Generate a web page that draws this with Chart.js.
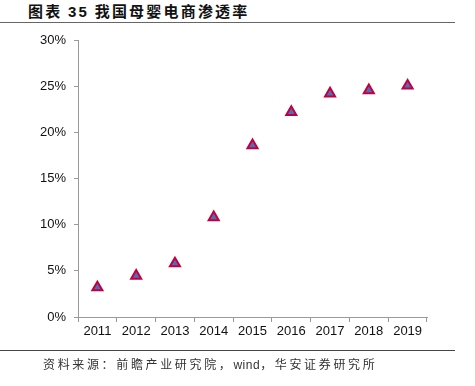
<!DOCTYPE html>
<html>
<head>
<meta charset="utf-8">
<script src="https://cdn.jsdelivr.net/npm/chart.js@4/dist/chart.umd.min.js"></script>
<style>
  html, body { margin: 0; padding: 0; background: #fff; }
  #wrap { position: relative; width: 475px; height: 386px; overflow: hidden; }
  #title { position: absolute; left: 28px; top: 1px; font-family: "Noto Sans CJK SC", sans-serif; font-weight: bold; font-size: 15px; letter-spacing: 2.2px; color: #111; white-space: nowrap; line-height: 20px; }
  #title .num { font-family: "Liberation Sans", Arial, sans-serif; }
  #topline { position: absolute; left: 0; top: 22px; width: 455px; height: 1px; background: #666; }
  #botline { position: absolute; left: 0; top: 350px; width: 455px; height: 1px; background: #444; }
  #source { position: absolute; left: 43px; top: 355px; font-family: "Noto Sans CJK SC", sans-serif; font-size: 12px; letter-spacing: 2.65px; color: #333; white-space: nowrap; line-height: 18px; }
  #source .lat { font-family: "Liberation Sans", Arial, sans-serif; letter-spacing: 0.5px; }
  canvas { position: absolute; left: 0; top: 0; }
</style>
</head>
<body>
<div id="wrap">
  <div id="title">图表 <span class="num">35</span> 我国母婴电商渗透率</div>
  <div id="topline"></div>
  <canvas id="c" width="475" height="386"></canvas>
  <div id="botline"></div>
  <div id="source">资料来源：前瞻产业研究院，<span class="lat">wind</span>，华安证券研究所</div>
</div>
<script>
const categories = ["2011", "2012", "2013", "2014", "2015", "2016", "2017", "2018", "2019"];
const penetration = [3.2, 4.45, 5.8, 10.8, 18.6, 22.2, 24.2, 24.55, 25.05];
const yTicks = [0, 5, 10, 15, 20, 25, 30];

new Chart(document.getElementById('c'), {
  type: 'line',
  data: {
    labels: categories,
    datasets: [{
      data: penetration,
      showLine: false,
      pointStyle: 'triangle',
      pointRadius: 5.8,
      pointBorderWidth: 2,
      pointBackgroundColor: '#4a6fc0',
      pointBorderColor: '#c4003c'
    }]
  },
  options: {
    responsive: false,
    animation: false,
    events: [],
    layout: { padding: { left: 0, right: 48, top: 40, bottom: 38 } },
    plugins: { legend: { display: false }, tooltip: { enabled: false } },
    scales: {
      x: {
        type: 'category',
        offset: true,
        grid: { offset: true, drawOnChartArea: false, drawTicks: true, tickLength: 5, color: '#999' },
        border: { color: '#999', width: 1 },
        ticks: { color: '#111', font: { family: 'Liberation Sans, Arial, sans-serif', size: 13 }, padding: 2, maxRotation: 0, autoSkip: false },
        afterFit: s => { s.height = 31; }
      },
      y: {
        min: 0, max: 30,
        afterBuildTicks: s => { s.ticks = yTicks.map(v => ({ value: v })); },
        grid: { drawOnChartArea: false, drawTicks: true, tickLength: 4, color: '#999' },
        border: { color: '#999', width: 1 },
        ticks: { color: '#111', font: { family: 'Liberation Sans, Arial, sans-serif', size: 13 }, padding: 8, callback: v => v + '%' },
        afterFit: s => { s.width = 78; }
      }
    }
  }
});
</script>
</body>
</html>
